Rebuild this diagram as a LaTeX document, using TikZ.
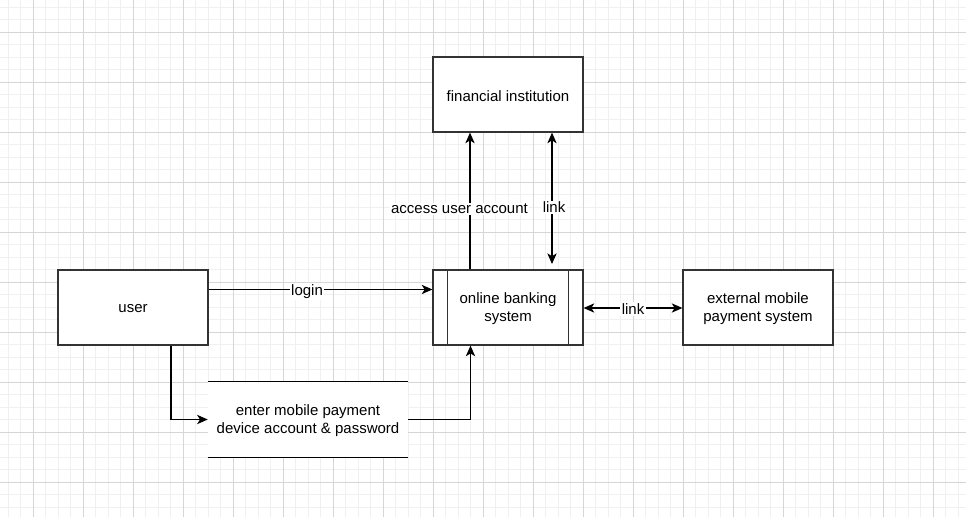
\documentclass[tikz,border=0pt]{standalone}
\usepackage{fontspec}
\setmainfont{Liberation Sans}
\usetikzlibrary{arrows.meta}
\definecolor{gridminor}{HTML}{F0F0F0}
\definecolor{gridmajor}{HTML}{D6D6D6}
\definecolor{edge}{HTML}{333333}
\begin{document}
\begin{tikzpicture}[x=0.75pt,y=-0.75pt,
  box/.style={draw=edge, line width=0.95pt, minimum width=150*0.75pt, minimum height=75*0.75pt, inner sep=0pt, fill=white},
  txt/.style={align=center, font=\fontsize{11.25}{13.5}\selectfont, inner sep=0pt},
  lbl/.style={fill=white, inner sep=1pt, font=\fontsize{11.25}{13}\selectfont},
  tip/.style={},
  conn/.style={line width=0.8pt, -{Stealth[length=8pt,width=7pt,inset=2.2pt]}},
  dconn/.style={line width=0.8pt, {Stealth[length=8pt,width=7pt,inset=2.2pt]}-{Stealth[length=8pt,width=7pt,inset=2.2pt]}}
]
\useasboundingbox (0,0) rectangle (966,517);
\fill[white] (0,0) rectangle (966,517);
% grid
\foreach \i in {0,...,77} {
  \draw[gridminor, line width=0.75pt] ({8.33+12.5*\i},0) -- ({8.33+12.5*\i},517);
}
\foreach \i in {0,...,41} {
  \draw[gridminor, line width=0.75pt] (0,{7.3+12.5*\i}) -- (966,{7.3+12.5*\i});
}
\foreach \i in {0,...,19} {
  \draw[gridmajor, line width=0.75pt] ({33.33+50*\i},0) -- ({33.33+50*\i},517);
}
\foreach \i in {0,...,10} {
  \draw[gridmajor, line width=0.75pt] (0,{32.3+50*\i}) -- (966,{32.3+50*\i});
}
% nodes
\node[box] (fi) at (508,94.5) {};
\node[txt] (fit) at (508,96.5) {financial institution};
\node[box] (user) at (133,307.5) {};
\node[txt] (usert) at (133,309) {user};
\node[box] (obs) at (508,307.5) {};
\draw[edge, line width=0.95pt] (447.5,270) -- (447.5,345) (568.5,270) -- (568.5,345);
\node[txt] (obst) at (508,309) {online banking\\system};
\node[box] (ext) at (758,307.5) {};
\node[txt] (extt) at (758,309) {external mobile\\payment system};
\node[minimum width=200*0.75pt, minimum height=75*0.75pt, fill=white, inner sep=0pt] (ds) at (308,419.5) {};
\node[txt] (dst) at (308,421) {enter mobile payment\\device account \& password};
\draw[line width=0.95pt] (ds.north west) -- (ds.north east) (ds.south west) -- (ds.south east);
% connectors
\draw[conn] (user.east |- 0,289.5) -- node[lbl, pos=0.44, yshift=-1.5pt] {login} (obs.west |- 0,289.5);
\draw[conn] (obs.north -| 470,0) -- node[lbl, pos=0.44, xshift=-10.5*0.75pt] {access user account} (fi.south -| 470,0);
\draw[dconn] (552,264) -- node[lbl, pos=0.43, xshift=2*0.75pt] {link} (fi.south -| 552,0);
\draw[dconn] (obs.east |- 0,308) -- node[lbl, yshift=-0.8pt] {link} (ext.west |- 0,308);
\coordinate (c1) at (171,419.5);
\draw[conn] (user.south -| c1) -- (c1) -- (ds.west);
\coordinate (c2) at (470.5,419.5);
\draw[conn] (ds.east) -- (c2) -- (obs.south -| c2);
\end{tikzpicture}
\end{document}
